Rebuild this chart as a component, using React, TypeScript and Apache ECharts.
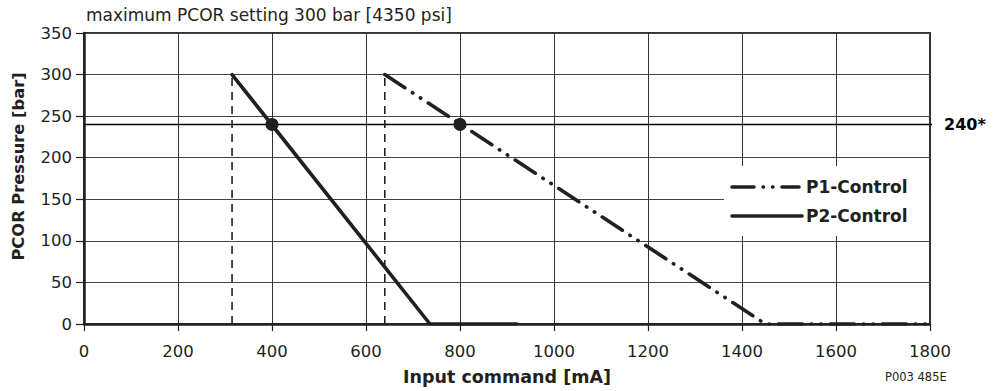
import React, { useEffect, useRef } from "react";
import * as echarts from "echarts";

// ---- data ----
const p1Control: [number, number][] = [
  [640, 300],
  [1450, 0],
  [1800, 0],
];
const p2Control: [number, number][] = [
  [315, 300],
  [736, 0],
  [921, 0],
];
const p1Start: [number, number][] = [
  [640, 0],
  [640, 300],
];
const p2Start: [number, number][] = [
  [315, 0],
  [315, 300],
];
const operatingPoints: [number, number][] = [
  [400, 240],
  [800, 240],
];
const refLevel: [number, number][] = [
  [0, 240],
  [1817, 240],
];
const refLabel = "240*";
const subtitle = "maximum PCOR setting 300 bar [4350 psi]";
const xName = "Input command [mA]";
const yName = "PCOR Pressure [bar]";
const docId = "P003 485E";
const legendNames = ["P1-Control", "P2-Control"];

const INK = "#231f20";
const FONT = "'DejaVu Sans', sans-serif";
const P1_DASH = [24, 9, 0.5, 9, 0.5, 9];

export default function App() {
  const ref = useRef<HTMLDivElement>(null);
  useEffect(() => {
    if (!ref.current) return;
    const chart = echarts.init(ref.current, undefined, { renderer: "svg" });
    chart.setOption({
      animation: false,
      backgroundColor: "#ffffff",
      textStyle: { fontFamily: FONT, color: INK },
      grid: {
        left: 84,
        right: 66,
        top: 33,
        bottom: 63,
        show: true,
        borderColor: "#333",
        borderWidth: 2,
      },
      xAxis: {
        type: "value",
        min: 0,
        max: 1800,
        interval: 200,
        name: xName,
        nameLocation: "middle",
        nameGap: 44,
        nameTextStyle: { fontSize: 17.5, fontWeight: "bold", color: INK, fontFamily: FONT },
        axisLine: { show: true, onZero: false, lineStyle: { color: INK, width: 2.5 } },
        axisTick: { show: true, length: 7, lineStyle: { color: INK, width: 1.2 } },
        axisLabel: {
          fontSize: 16.5,
          margin: 19,
          color: INK,
          fontFamily: FONT,
          formatter: (v: number) => String(v),
        },
        splitLine: { show: true, lineStyle: { color: "#333", width: 1 } },
      },
      yAxis: {
        type: "value",
        min: 0,
        max: 350,
        interval: 50,
        name: yName,
        nameLocation: "middle",
        nameGap: 58,
        nameRotate: 90,
        nameTextStyle: {
          fontSize: 16.3,
          fontWeight: "bold",
          color: INK,
          fontFamily: FONT,
          padding: [0, 0, 0, 24],
        },
        axisLine: { show: true, onZero: false, lineStyle: { color: INK, width: 2.5 } },
        axisTick: { show: true, length: 8, lineStyle: { color: INK, width: 1.2 } },
        axisLabel: {
          fontSize: 16.5,
          margin: 12,
          color: INK,
          fontFamily: FONT,
          formatter: (v: number) => String(v),
        },
        splitLine: { show: true, lineStyle: { color: "#444", width: 1.2 } },
      },
      series: [
        {
          type: "line",
          name: "ref",
          data: refLevel,
          clip: false,
          symbol: "none",
          lineStyle: { color: "#000", width: 1.5 },
          endLabel: {
            show: true,
            formatter: refLabel,
            fontSize: 16,
            fontWeight: "bold",
            color: "#000",
            fontFamily: FONT,
            distance: 12,
          },
          z: 3,
        },
        {
          type: "line",
          name: "p1start",
          data: p1Start,
          symbol: "none",
          lineStyle: { color: INK, width: 1.6, type: [8, 6] },
          z: 4,
        },
        {
          type: "line",
          name: "p2start",
          data: p2Start,
          symbol: "none",
          lineStyle: { color: INK, width: 1.6, type: [8, 6] },
          z: 4,
        },
        {
          type: "line",
          name: legendNames[0],
          data: p1Control,
          symbol: "none",
          lineStyle: { color: INK, width: 3.6, type: P1_DASH, cap: "round" },
          z: 5,
        },
        {
          type: "line",
          name: legendNames[1],
          data: p2Control,
          symbol: "none",
          lineStyle: { color: INK, width: 3.6, cap: "round" },
          z: 5,
        },
        {
          type: "scatter",
          name: "points",
          data: operatingPoints,
          symbol: "circle",
          symbolSize: 13,
          itemStyle: { color: INK, opacity: 1 },
          z: 6,
        },
      ],
      graphic: [
        {
          type: "text",
          left: 86,
          top: 6,
          style: { text: subtitle, font: `17px ${FONT}`, fill: INK },
        },
        {
          type: "text",
          left: 885,
          top: 371,
          style: { text: docId, font: `11.5px ${FONT}`, fill: INK },
        },
        {
          type: "rect",
          shape: { x: 724, y: 166, width: 205, height: 70 },
          style: { fill: "#ffffff" },
          z: 10,
        },
        {
          type: "line",
          shape: { x1: 732, y1: 187, x2: 799, y2: 187 },
          style: { stroke: INK, lineWidth: 3.6, lineDash: [22, 9, 0.5, 9, 0.5, 9], lineCap: "round" },
          z: 11,
        },
        {
          type: "line",
          shape: { x1: 732, y1: 216, x2: 802, y2: 216 },
          style: { stroke: INK, lineWidth: 3.6, lineCap: "round" },
          z: 11,
        },
        {
          type: "text",
          x: 806,
          y: 187,
          style: {
            text: legendNames[0],
            font: `bold 17px ${FONT}`,
            fill: INK,
            verticalAlign: "middle",
          },
          z: 11,
        },
        {
          type: "text",
          x: 806,
          y: 216,
          style: {
            text: legendNames[1],
            font: `bold 17px ${FONT}`,
            fill: INK,
            verticalAlign: "middle",
          },
          z: 11,
        },
      ],
    });
    return () => chart.dispose();
  }, []);
  return (
    <div
      ref={ref}
      style={{ position: "fixed", left: 0, top: 0, width: 996, height: 391 }}
    />
  );
}
